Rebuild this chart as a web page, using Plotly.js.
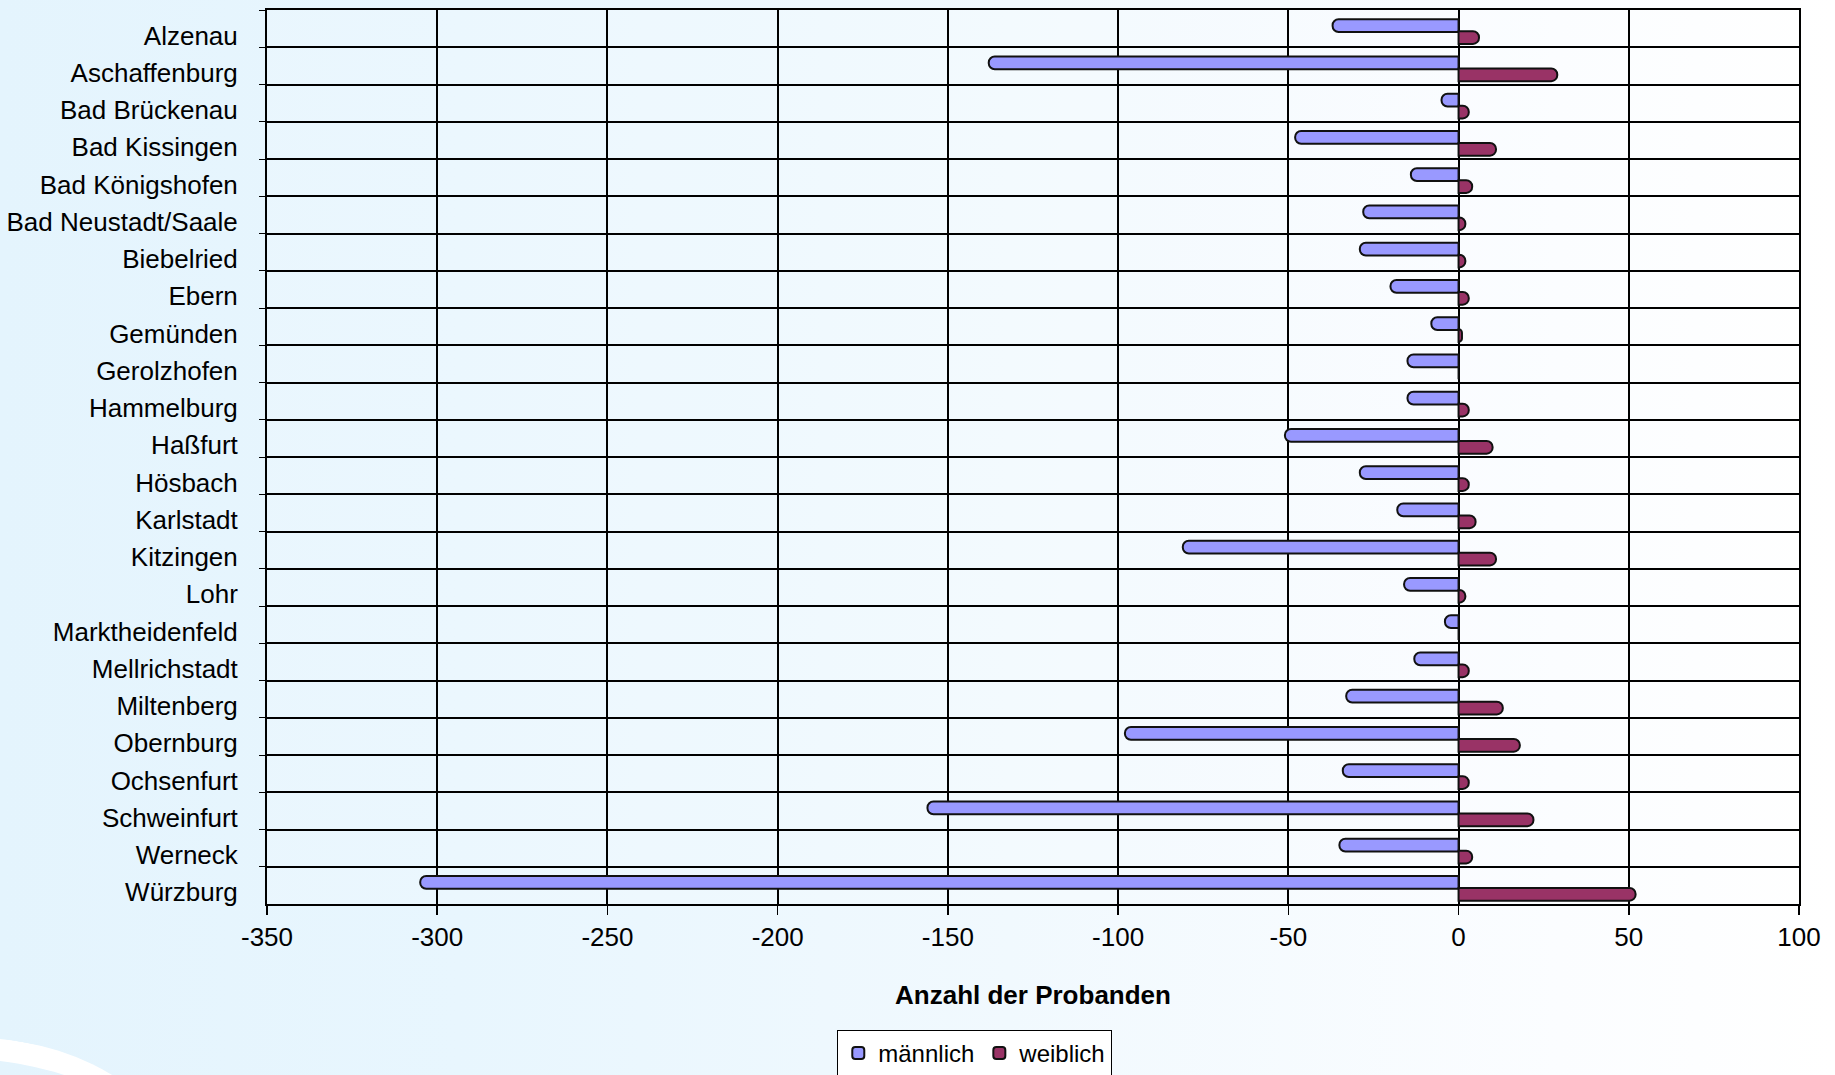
<!DOCTYPE html>
<html><head><meta charset="utf-8">
<script src="https://cdn.plot.ly/plotly-3.0.1.min.js"></script>
<style>
html,body{margin:0;padding:0;}
body{background:linear-gradient(to right,#e4f4fd 0%,#e8f6fe 25%,#f1f9fe 55%,#fbfdff 85%,#ffffff 100%);width:1835px;height:1075px;overflow:hidden;position:relative;}
#chart{width:1835px;height:1075px;position:relative;z-index:1;}
#swoosh{position:absolute;left:-190px;top:1040px;width:380px;height:260px;border-radius:50%;border-top:22px solid #ffffff;box-sizing:border-box;z-index:0;transform:rotate(10deg);}
</style>
</head><body><div id="swoosh"></div><div id="chart"></div>
<script>
const orte = ["Alzenau","Aschaffenburg","Bad Brückenau","Bad Kissingen","Bad Königshofen","Bad Neustadt/Saale","Biebelried","Ebern","Gemünden","Gerolzhofen","Hammelburg","Haßfurt","Hösbach","Karlstadt","Kitzingen","Lohr","Marktheidenfeld","Mellrichstadt","Miltenberg","Obernburg","Ochsenfurt","Schweinfurt","Werneck","Würzburg"];
const maennlich = [-37,-138,-5,-48,-14,-28,-29,-20,-8,-15,-15,-51,-29,-18,-81,-16,-4,-13,-33,-98,-34,-156,-35,-305];
const weiblich = [6,29,3,11,4,2,2,3,1,0,3,10,3,5,11,2,0,3,13,18,3,22,4,52];
const xTickVals = [-350,-300,-250,-200,-150,-100,-50,0,50,100];
const xTitle = "Anzahl der Probanden";

const font = {family:"Liberation Sans, Arial, sans-serif", size:26, color:"#000"};

const traces = [
  {type:"bar", orientation:"h", name:"männlich", y:orte, x:maennlich,
   offset:-0.25, width:0.34,
   marker:{color:"#9999ff", line:{color:"#111", width:2}, cornerradius:6}},
  {type:"bar", orientation:"h", name:"weiblich", y:orte, x:weiblich,
   offset:0.07, width:0.34,
   marker:{color:"#993366", line:{color:"#111", width:2}, cornerradius:6}}
];

const layout = {
  width:1835, height:1075,
  paper_bgcolor:"rgba(0,0,0,0)", plot_bgcolor:"rgba(255,255,255,0.15)",
  font:font,
  margin:{l:267, r:36, t:10, b:171},
  barmode:"overlay",
  showlegend:true,
  legend:{orientation:"h", x:0.462, xanchor:"center", yref:"container", y:0.042, yanchor:"top",
          bgcolor:"#ffffff", bordercolor:"#000", borderwidth:1,
          font:{family:font.family, size:24, color:"#000"}, itemwidth:30},
  xaxis:{range:[-350,100], tickvals:xTickVals, ticktext:xTickVals.map(String),
         showgrid:true, gridcolor:"#000", gridwidth:2,
         zeroline:true, zerolinecolor:"#000", zerolinewidth:2,
         showline:true, linecolor:"#000", linewidth:2, mirror:true,
         ticks:"outside", ticklen:9, tickcolor:"#000", tickwidth:1.5,
         ticklabelstandoff:0,
         tickfont:font, fixedrange:true,
         title:{text:"<b>"+xTitle+"</b>", font:font, standoff:35}},
  yaxis:{type:"category", categoryorder:"array", categoryarray:orte, autorange:"reversed",
         tickson:"boundaries", showgrid:true, gridcolor:"#000", gridwidth:2,
         showline:true, linecolor:"#000", linewidth:2, mirror:true,
         ticks:"outside", ticklen:6, tickcolor:"#000",
         ticklabelstandoff:22, ticklabelshift:-7, tickfont:font, fixedrange:true}
};

Plotly.newPlot("chart", traces, layout, {displayModeBar:false, staticPlot:true});
</script>
</body></html>
